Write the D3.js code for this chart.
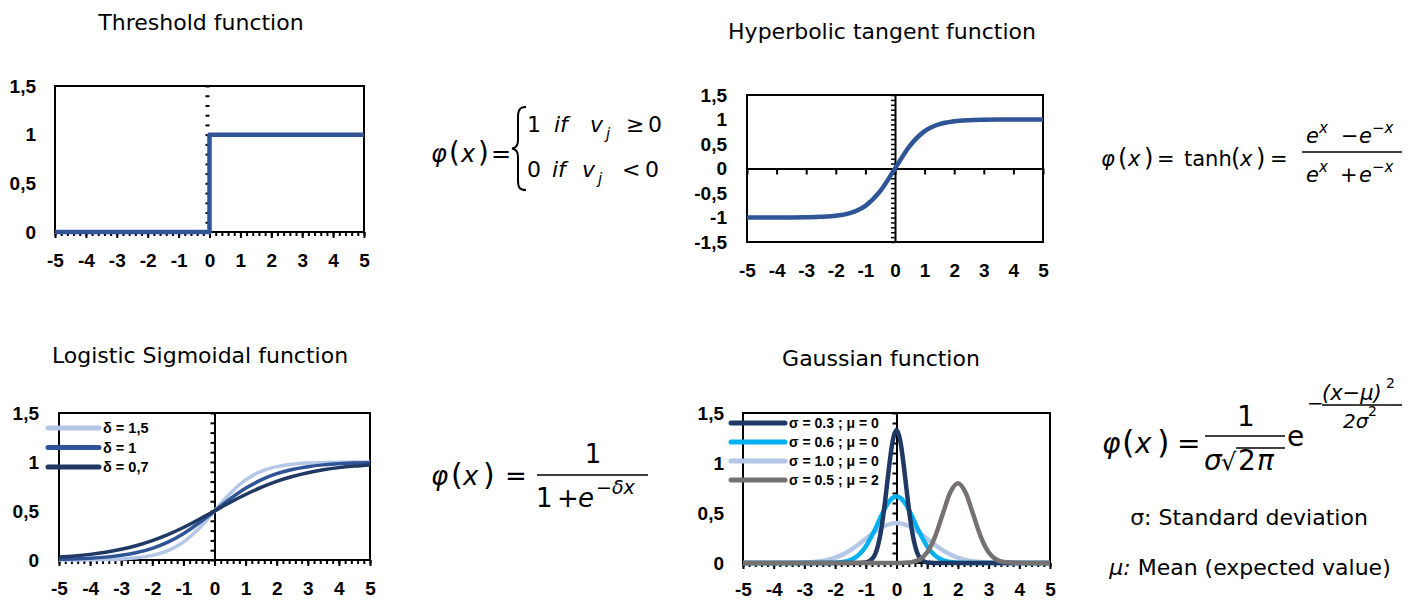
<!DOCTYPE html>
<html>
<head>
<meta charset="utf-8">
<script src="https://cdn.jsdelivr.net/npm/d3@7"></script>
<style>
  body { margin: 0; background: #fff; }
</style>
</head>
<body>
<script>
// x axis ticks shared by all four panels
const xTicks = [-5, -4, -3, -2, -1, 0, 1, 2, 3, 4, 5];
const yTicksPos = [0, 0.5, 1, 1.5];
const yTicksTanh = [-1.5, -1, -0.5, 0, 0.5, 1, 1.5];

// threshold function
const threshX = [-5, 0, 0, 5];
const threshY = [0, 0, 1, 1];

// grid used by tanh and logistic curves
const sigX = [-5, -4.5, -4, -3.5, -3, -2.5, -2, -1.5, -1, -0.5, 0, 0.5, 1, 1.5, 2, 2.5, 3, 3.5, 4, 4.5, 5];
const tanhY = [-0.9999, -0.9998, -0.9993, -0.9982, -0.9951, -0.9866, -0.964, -0.9051, -0.7616, -0.4621, 0,
  0.4621, 0.7616, 0.9051, 0.964, 0.9866, 0.9951, 0.9982, 0.9993, 0.9998, 0.9999];
const logi15 = [0.0006, 0.0012, 0.0025, 0.0052, 0.011, 0.023, 0.0474, 0.0953, 0.1824, 0.3208, 0.5,
  0.6792, 0.8176, 0.9047, 0.9526, 0.977, 0.989, 0.9948, 0.9975, 0.9988, 0.9994];
const logi1 = [0.0067, 0.011, 0.018, 0.0293, 0.0474, 0.0759, 0.1192, 0.1824, 0.2689, 0.3775, 0.5,
  0.6225, 0.7311, 0.8176, 0.8808, 0.9241, 0.9526, 0.9707, 0.982, 0.989, 0.9933];
const logi07 = [0.0293, 0.0411, 0.0573, 0.0794, 0.1091, 0.148, 0.1978, 0.2592, 0.3318, 0.4134, 0.5,
  0.5866, 0.6682, 0.7408, 0.8022, 0.852, 0.8909, 0.9206, 0.9427, 0.9589, 0.9707];
const logiLabels = ["δ = 1,5", "δ = 1", "δ = 0,7"];

// gaussian curves
const gaussX = [-5, -4, -3.5, -3, -2.75, -2.5, -2.25, -2, -1.75, -1.5, -1.25, -1, -0.75, -0.5, -0.375, -0.25, -0.125, 0,
  0.125, 0.25, 0.375, 0.5, 0.75, 1, 1.25, 1.5, 1.75, 2, 2.25, 2.5, 2.75, 3, 3.25, 3.5, 4, 5];
const gauss03 = [0, 0, 0, 0, 0, 0, 0, 0, 0, 0, 0.0002, 0.005, 0.058, 0.332, 0.609, 0.94, 1.219, 1.33,
  1.219, 0.94, 0.609, 0.332, 0.058, 0.005, 0.0002, 0, 0, 0, 0, 0, 0, 0, 0, 0, 0, 0];
const gauss06 = [0, 0, 0, 0, 0, 0.0001, 0.0006, 0.0026, 0.0095, 0.029, 0.076, 0.166, 0.304, 0.47, 0.547, 0.61, 0.651, 0.665,
  0.651, 0.61, 0.547, 0.47, 0.304, 0.166, 0.076, 0.029, 0.0095, 0.0026, 0.0006, 0.0001, 0, 0, 0, 0, 0, 0];
const gauss10 = [0, 0.0001, 0.0009, 0.0044, 0.0091, 0.0175, 0.0317, 0.054, 0.0863, 0.1295, 0.183, 0.242, 0.301, 0.352, 0.372, 0.387, 0.396, 0.399,
  0.396, 0.387, 0.372, 0.352, 0.301, 0.242, 0.183, 0.1295, 0.0863, 0.054, 0.0317, 0.0175, 0.0091, 0.0044, 0.002, 0.0009, 0.0001, 0];
const gauss05m2 = [0, 0, 0, 0, 0, 0, 0, 0, 0, 0, 0, 0, 0, 0, 0, 0, 0, 0.0003,
  0.0007, 0.0017, 0.0041, 0.0089, 0.035, 0.108, 0.259, 0.484, 0.704, 0.798, 0.704, 0.484, 0.259, 0.108, 0.035, 0.0089, 0.0003, 0];
const gaussLabels = ["σ = 0.3 ; μ = 0", "σ = 0.6 ; μ = 0", "σ = 1.0 ; μ = 0", "σ = 0.5 ; μ = 2"];

const NAVY = "#203864", BLUE = "#2f5597", LIGHT = "#b4c7e7", CYAN = "#00b0f0", GREY = "#767171";
const LABEL_FONT = "'Liberation Sans', Arial, sans-serif";
const MATH_FONT = "'DejaVu Sans', sans-serif";

const svg = d3.select("body").append("svg")
  .attr("width", 1419)
  .attr("height", 600);

function panel(o) {
  const x = d3.scaleLinear().domain([-5, 5]).range([o.left, o.right]);
  const y = d3.scaleLinear().domain(o.yDomain).range([o.bottom, o.top]);
  const g = svg.append("g");

  // frame
  g.append("rect")
    .attr("x", o.left).attr("y", o.top)
    .attr("width", o.right - o.left).attr("height", o.bottom - o.top)
    .attr("fill", "none").attr("stroke", "#000").attr("stroke-width", 2);

  // dotted minor ticks under the bottom edge
  if (o.bottomMinor) {
    g.append("g").attr("transform", "translate(0," + o.bottom + ")")
      .call(d3.axisBottom(x).tickValues(d3.range(-5, 5.001, 0.2)).tickSize(4).tickSizeOuter(0).tickFormat(""))
      .call(s => s.select(".domain").remove())
      .selectAll("line").attr("stroke-width", 2);
    g.append("g").attr("transform", "translate(0," + o.bottom + ")")
      .call(d3.axisBottom(x).tickValues(xTicks).tickSize(6).tickSizeOuter(0).tickFormat(""))
      .call(s => s.select(".domain").remove())
      .selectAll("line").attr("stroke-width", 2);
  }

  // horizontal axis through y = 0 (tanh only)
  if (o.zeroAxis) {
    g.append("g").attr("transform", "translate(0," + y(0) + ")")
      .call(d3.axisBottom(x).tickValues(xTicks).tickSize(6).tickSizeOuter(0).tickFormat(""))
      .call(s => s.select(".domain").attr("stroke-width", 2))
      .selectAll("line").attr("stroke-width", 2);
  }

  // vertical axis at x = 0 with small ticks
  const vAxis = g.append("g").attr("transform", "translate(" + x(0) + ",0)")
    .call(d3.axisLeft(y).tickValues(d3.range(o.yDomain[0], o.yDomain[1] + 0.001, o.vStep)).tickSize(4).tickSizeOuter(0).tickFormat(""));
  vAxis.selectAll("line").attr("stroke-width", o.vTickW || 2);
  if (o.vSolid) vAxis.select(".domain").attr("stroke-width", 2);
  else vAxis.select(".domain").remove();

  // tick labels
  const xl = g.append("g").attr("transform", "translate(0," + o.bottom + ")")
    .call(d3.axisBottom(x).tickValues(xTicks).tickSize(0).tickFormat(d => String(d)))
    .call(s => s.select(".domain").remove())
    .attr("font-family", LABEL_FONT).attr("font-size", 19).attr("font-weight", "bold");
  xl.selectAll("text").attr("y", o.xPad).attr("dy", "0.35em");
  g.append("g").attr("transform", "translate(" + o.left + ",0)")
    .call(d3.axisLeft(y).tickValues(o.yTicks).tickSize(0).tickPadding(o.yPad).tickFormat(d => String(d).replace(".", ",")))
    .call(s => s.select(".domain").remove())
    .attr("font-family", LABEL_FONT).attr("font-size", 19).attr("font-weight", "bold");

  // title
  svg.append("text")
    .attr("x", o.titleX).attr("y", o.titleY)
    .attr("text-anchor", "middle")
    .attr("font-family", MATH_FONT).attr("font-size", 22)
    .text(o.title);

  // series
  const line = d3.line()
    .x(d => x(d[0])).y(d => y(d[1]))
    .curve(o.curve || d3.curveMonotoneX);
  o.series.forEach(s => {
    g.append("path")
      .datum(s.xs.map((v, i) => [v, s.ys[i]]))
      .attr("fill", "none")
      .attr("stroke", s.color)
      .attr("stroke-width", s.width)
      .attr("stroke-linejoin", "round")
      .attr("d", line);
  });

  // legend
  if (o.legend) {
    o.legend.labels.forEach((lab, i) => {
      const ly = o.legend.y0 + i * o.legend.dy;
      g.append("line")
        .attr("x1", o.legend.x1).attr("x2", o.legend.x2)
        .attr("y1", ly).attr("y2", ly)
        .attr("stroke", o.legend.colors[i]).attr("stroke-width", 5)
        .attr("stroke-linecap", "round");
      g.append("text")
        .attr("x", o.legend.x2 + 4).attr("y", ly).attr("dy", "0.35em")
        .attr("font-family", LABEL_FONT).attr("font-size", o.legend.size).attr("font-weight", "bold")
        .text(lab);
    });
  }
}

panel({
  title: "Threshold function", titleX: 201, titleY: 30,
  left: 55, right: 364, top: 86, bottom: 232, yDomain: [0, 1.5], yTicks: yTicksPos,
  xPad: 28, yPad: 19, bottomMinor: true, vSolid: false, vStep: 0.1,
  curve: d3.curveLinear,
  series: [{ xs: threshX, ys: threshY, color: BLUE, width: 4.5 }]
});

panel({
  title: "Hyperbolic tangent function", titleX: 882, titleY: 39,
  left: 747, right: 1043, top: 95, bottom: 242, yDomain: [-1.5, 1.5], yTicks: yTicksTanh,
  xPad: 28, yPad: 20, zeroAxis: true, vSolid: true, vStep: 0.1, vTickW: 1.5,
  series: [{ xs: sigX, ys: tanhY, color: BLUE, width: 4.5 }]
});

panel({
  title: "Logistic Sigmoidal function", titleX: 200, titleY: 363,
  left: 59, right: 370, top: 413, bottom: 560, yDomain: [0, 1.5], yTicks: yTicksPos,
  xPad: 28, yPad: 20, bottomMinor: true, vSolid: true, vStep: 0.1,
  series: [
    { xs: sigX, ys: logi15, color: LIGHT, width: 3.5 },
    { xs: sigX, ys: logi1, color: BLUE, width: 3.5 },
    { xs: sigX, ys: logi07, color: NAVY, width: 3.5 }
  ],
  legend: { labels: logiLabels, colors: [LIGHT, BLUE, NAVY], x1: 48, x2: 99, y0: 428, dy: 19.5, size: 14.5 }
});

panel({
  title: "Gaussian function", titleX: 881, titleY: 366,
  left: 743, right: 1050, top: 413, bottom: 563, yDomain: [0, 1.5], yTicks: yTicksPos,
  xPad: 26, yPad: 19, bottomMinor: true, vSolid: true, vStep: 0.1,
  series: [
    { xs: gaussX, ys: gauss10, color: LIGHT, width: 4.5 },
    { xs: gaussX, ys: gauss06, color: CYAN, width: 4.5 },
    { xs: gaussX, ys: gauss03, color: NAVY, width: 4.5 },
    { xs: gaussX, ys: gauss05m2, color: GREY, width: 4.5 }
  ],
  legend: { labels: gaussLabels, colors: [NAVY, CYAN, LIGHT, GREY], x1: 731, x2: 785, y0: 423, dy: 19, size: 14 }
});

// ---- formulas ----
function t(x, y, str, size, opts) {
  opts = opts || {};
  return svg.append("text")
    .attr("x", x).attr("y", y)
    .attr("font-family", MATH_FONT)
    .attr("font-size", size)
    .attr("font-style", opts.italic ? "italic" : "normal")
    .attr("text-anchor", opts.anchor || "start")
    .text(str);
}
function phiX(x0, y0, s, sp) {
  t(x0, y0, "φ", s, { italic: true });
  t(x0 + sp[0], y0, "(", s * 1.15);
  t(x0 + sp[1], y0, "x", s, { italic: true });
  t(x0 + sp[2], y0, ")", s * 1.15);
  t(x0 + sp[3], y0, "=", s);
}
function hbar(x1, x2, y) {
  svg.append("line").attr("x1", x1).attr("x2", x2).attr("y1", y).attr("y2", y)
    .attr("stroke", "#000").attr("stroke-width", 1.6);
}

// threshold
phiX(431, 162, 24, [18, 30, 47, 60]);
svg.append("path")
  .attr("d", "M526,107 C519,107 518,111 518,118 L518,140 C518,146 516,148 512,148.5 C516,149 518,151 518,157 L518,180 C518,187 519,190 526,190")
  .attr("fill", "none").attr("stroke", "#000").attr("stroke-width", 2);
t(527, 132, "1", 22);
t(554, 132, "if", 22, { italic: true });
t(590, 132, "v", 22, { italic: true });
t(606, 139, "j", 15, { italic: true });
t(626, 132, "≥", 22);
t(648, 132, "0", 22);
t(527, 177, "0", 22);
t(552, 177, "if", 22, { italic: true });
t(582, 177, "v", 22, { italic: true });
t(598, 184, "j", 15, { italic: true });
t(622, 177, "<", 22);
t(645, 177, "0", 22);

// tanh
phiX(1101, 166, 21, [17, 27, 43, 56]);
t(1184, 166, "tanh", 21);
t(1231, 166, "(", 24);
t(1240, 166, "x", 21, { italic: true });
t(1256, 166, ")", 24);
t(1270, 166, "=", 21);
t(1306, 143, "e", 21, { italic: true });
t(1319, 133, "x", 15, { italic: true });
t(1341, 143, "−", 21);
t(1359, 143, "e", 21, { italic: true });
t(1372, 133, "−x", 15, { italic: true });
hbar(1302, 1402, 152);
t(1306, 182, "e", 21, { italic: true });
t(1319, 172, "x", 15, { italic: true });
t(1340, 182, "+", 21);
t(1359, 182, "e", 21, { italic: true });
t(1372, 172, "−x", 15, { italic: true });

// logistic
phiX(431, 485, 26, [20, 32, 52, 74]);
t(593, 463, "1", 26, { anchor: "middle" });
hbar(537, 648, 475);
t(536, 507, "1", 26);
t(557, 507, "+", 26);
t(578, 507, "e", 26, { italic: true });
t(596, 494, "−δx", 19, { italic: true });

// gaussian
phiX(1102, 453, 28, [20, 33, 55, 75]);
t(1246, 426, "1", 28, { anchor: "middle" });
hbar(1205, 1285, 436);
t(1204, 470, "σ", 28, { italic: true });
t(1221, 470, "√", 24);
svg.append("line").attr("x1", 1236).attr("x2", 1285).attr("y1", 448).attr("y2", 448)
  .attr("stroke", "#000").attr("stroke-width", 1.4);
t(1238, 470, "2", 28);
t(1257, 470, "π", 28, { italic: true });
t(1287, 446, "e", 28);
t(1307, 410, "−", 20);
t(1322, 400, "(x−μ)", 21, { italic: true });
t(1386, 388, "2", 14);
hbar(1322, 1402, 405);
t(1343, 428, "2σ", 20, { italic: true });
t(1368, 416, "2", 14);
t(1249, 525, "σ: Standard deviation", 22, { anchor: "middle" });
const meanT = t(1250, 575, "", 22, { anchor: "middle" });
meanT.append("tspan").attr("font-style", "italic").text("μ:");
meanT.append("tspan").text(" Mean (expected value)");
</script>
</body>
</html>
